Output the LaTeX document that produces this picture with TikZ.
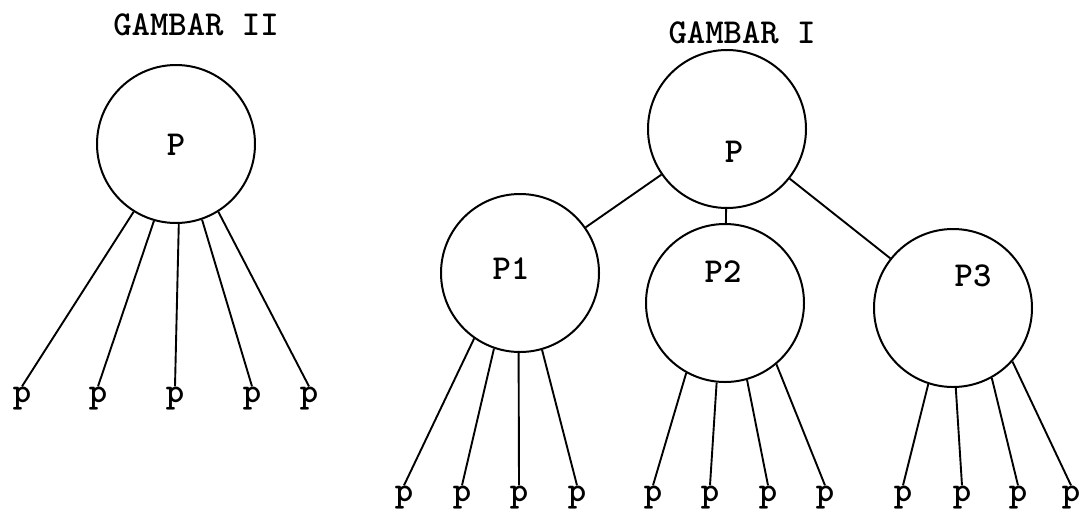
\documentclass[tikz,border=0pt]{standalone}
\tikzset{
  every picture/.style={x=1pt,y=-1pt},
  unit/.style={circle,draw,line width=2pt,minimum size=158pt,inner sep=0pt},
  tw/.style={font=\fontsize{35}{40}\selectfont\ttfamily\bfseries,inner sep=0pt},
  leaf/.style={tw,anchor=base},
  link/.style={line width=1.9pt}
}
\begin{document}
\begin{tikzpicture}
\useasboundingbox (0,0) rectangle (1082,512);

% ---- GAMBAR II : one process with five direct children ----
\node[tw] (t2) at (196,25) {GAMBAR II};
\node[unit] (L) at (176,144) {};
\node[tw] (Ltxt) at (176,145) {P};
\node[leaf] (l1) at (22,402) {p};
\node[leaf] (l2) at (98,402) {p};
\node[leaf] (l3) at (175,402) {p};
\node[leaf] (l4) at (252,402) {p};
\node[leaf] (l5) at (309,402) {p};
\draw[link] (L.238.4) -- (l1.north);
\draw[link] (L.254) -- (l2.north);
\draw[link] (L.272) -- (l3.north);
\draw[link] (L.289) -- (l4.north);
\draw[link] (L.302) -- (l5.north);

% ---- GAMBAR I : process tree with three sub-processes ----
\node[tw] (t1) at (742,33) {GAMBAR I};
\node[unit] (R) at (727,129) {};
\node[tw] (Rtxt) at (734,152) {P};
\node[unit] (A) at (520,273) {};
\node[tw] (Atxt) at (511,269) {P1};
\node[unit] (B) at (725,303) {};
\node[tw] (Btxt) at (723,272) {P2};
\node[unit] (C) at (953,308) {};
\node[tw] (Ctxt) at (973,276) {P3};
\draw[link] (R) -- (A);
\draw[link] (R) -- (B);
\draw[link] (R) -- (C);

% children of P1
\node[leaf] (a1) at (404,501) {p};
\node[leaf] (a2) at (462,501) {p};
\node[leaf] (a3) at (519,501) {p};
\node[leaf] (a4) at (577,501) {p};
\draw[link] (A.235.6) -- (a1.north);
\draw[link] (A.251.8) -- (a2.north);
\draw[link] (A.269.3) -- (a3.north);
\draw[link] (A.286.6) -- (a4.north);

% children of P2
\node[leaf] (b1) at (653,501) {p};
\node[leaf] (b2) at (710,501) {p};
\node[leaf] (b3) at (768,501) {p};
\node[leaf] (b4) at (825,501) {p};
\draw[link] (B.241.8) -- (b1.north);
\draw[link] (B.264.2) -- (b2.north);
\draw[link] (B.286.8) -- (b3.north);
\draw[link] (B.310) -- (b4.north);

% children of P3
\node[leaf] (c1) at (903,501) {p};
\node[leaf] (c2) at (962,501) {p};
\node[leaf] (c3) at (1018,501) {p};
\node[leaf] (c4) at (1071,501) {p};
\draw[link] (C.252.3) -- (c1.north);
\draw[link] (C.272.2) -- (c2.north);
\draw[link] (C.299.5) -- (c3.north);
\draw[link] (C.318.6) -- (c4.north);
\end{tikzpicture}
\end{document}
